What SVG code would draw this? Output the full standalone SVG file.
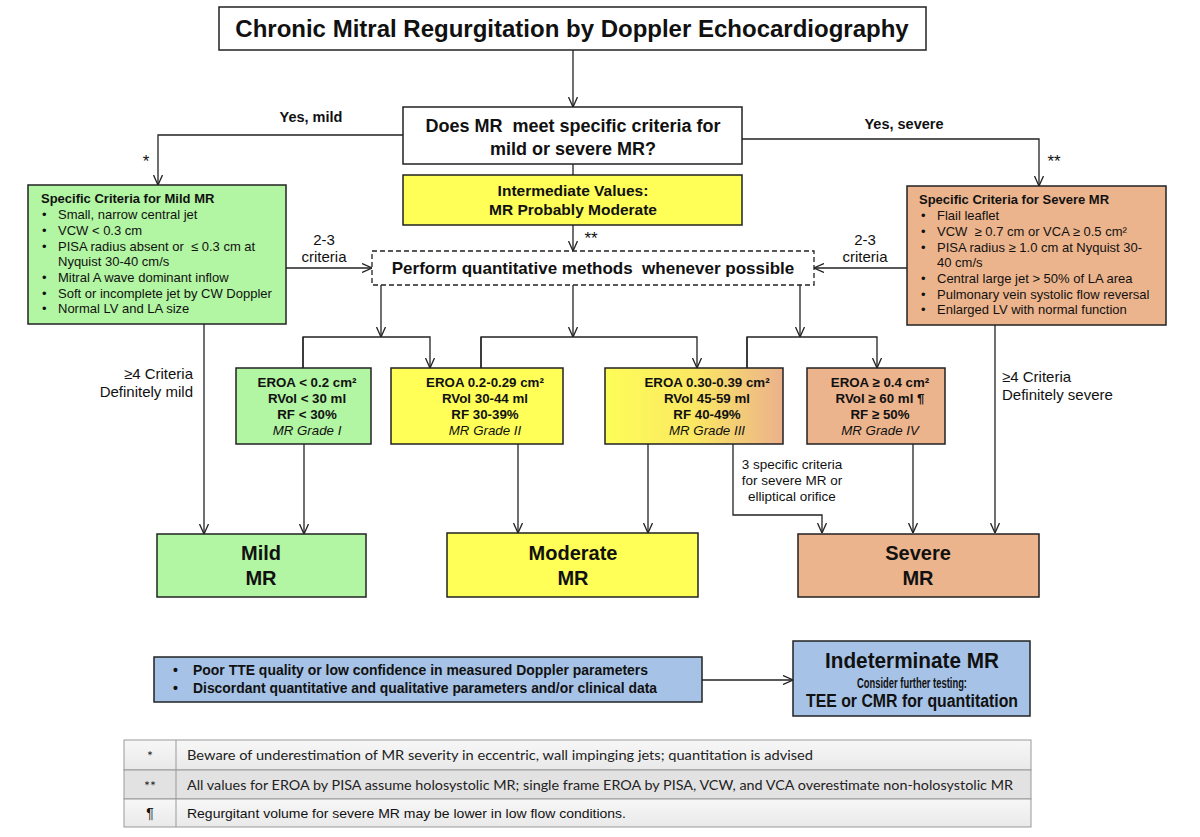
<svg xmlns="http://www.w3.org/2000/svg" width="1200" height="837" viewBox="0 0 1200 837">
<defs>
<marker id="ah" viewBox="0 0 10 10" refX="10" refY="5" markerWidth="10" markerHeight="10" markerUnits="userSpaceOnUse" orient="auto">
<path d="M0,0.5 L10,5 L0,9.5" fill="none" stroke="#222" stroke-width="1.3"/>
</marker>
<linearGradient id="g3" x1="0" y1="0" x2="1" y2="0">
<stop offset="0" stop-color="#fdfd58"/>
<stop offset="0.5" stop-color="#fbe862"/>
<stop offset="1" stop-color="#ebb18c"/>
</linearGradient>
<linearGradient id="tr" x1="0" y1="0" x2="0" y2="1">
<stop offset="0" stop-color="#f7f7f7"/>
<stop offset="1" stop-color="#e9e9e9"/>
</linearGradient>
</defs>
<style>
text{font-family:"Liberation Sans",Arial,sans-serif;fill:#111}
.b{font-weight:bold}
.pre{white-space:pre}
.box{stroke:#222;stroke-width:1.5}
.green{fill:#b2f5a2}
.yellow{fill:#ffff58}
.orange{fill:#ecb48c}
.blue{fill:#a6c2e6}
.white{fill:#fff}
.conn{stroke:#222;stroke-width:1.3;fill:none}
.arr{marker-end:url(#ah)}
.crit{font-size:13px}
.gr{font-size:13.3px;font-weight:bold;text-anchor:middle}
.gi{font-size:13.3px;font-style:italic;text-anchor:middle}
.out{font-size:20px;font-weight:bold;text-anchor:middle}
.lbl{font-size:15px}
.tbl{font-family:Lato,"Liberation Sans",sans-serif;font-size:14px;fill:#222}
</style>
<rect width="1200" height="837" fill="#fff"/>

<g id="connectors">
<path class="conn arr" d="M573,50 V107"/>
<path class="conn" d="M573,164 V175"/>
<path class="conn arr" d="M573,225 V251"/>
<path class="conn arr" d="M403,135 H158 V185"/>
<path class="conn arr" d="M742,139 H1039 V186"/>
<path class="conn arr" d="M286,268 H372"/>
<path class="conn arr" d="M907,268 H814"/>
<path class="conn arr" d="M381,285 V337"/>
<path class="conn arr" d="M573,285 V337"/>
<path class="conn arr" d="M800,285 V337"/>
<path class="conn arr" d="M303,368 V337 H430 V368"/>
<path class="conn arr" d="M481,368 V337 H697 V368"/>
<path class="conn arr" d="M747,368 V337 H877 V368"/>
<path class="conn" d="M303,337 V368"/>
<path class="conn" d="M481,337 V368"/>
<path class="conn" d="M747,337 V368"/>
<path class="conn arr" d="M204,324 V534"/>
<path class="conn arr" d="M304,444 V534"/>
<path class="conn arr" d="M518,444 V533"/>
<path class="conn arr" d="M648,444 V533"/>
<path class="conn arr" d="M733,444 V515 H822 V533"/>
<path class="conn arr" d="M913,444 V533"/>
<path class="conn arr" d="M995,325 V533"/>
<path class="conn arr" d="M702,680 H793"/>
<text class="b" x="311" y="122" font-size="14.5" text-anchor="middle">Yes, mild</text>
<text class="b" x="904" y="129" font-size="14.5" text-anchor="middle">Yes, severe</text>
<text x="146" y="167" font-size="17" text-anchor="middle">*</text>
<text x="1054" y="167" font-size="17" text-anchor="middle">**</text>
<text x="591" y="244" font-size="17" text-anchor="middle">**</text>
<text class="lbl" x="324" y="245" text-anchor="middle">2-3</text>
<text class="lbl" x="324" y="262" text-anchor="middle">criteria</text>
<text class="lbl" x="865" y="245" text-anchor="middle">2-3</text>
<text class="lbl" x="865" y="262" text-anchor="middle">criteria</text>
<text class="lbl" x="193" y="379" text-anchor="end">≥4 Criteria</text>
<text class="lbl" x="193" y="397" text-anchor="end">Definitely mild</text>
<text class="lbl" x="1002" y="382" text-anchor="start">≥4 Criteria</text>
<text class="lbl" x="1002" y="400" text-anchor="start">Definitely severe</text>
<text x="792" y="469" font-size="13.5" text-anchor="middle">3 specific criteria</text>
<text x="792" y="485" font-size="13.5" text-anchor="middle">for severe MR or</text>
<text x="792" y="501" font-size="13.5" text-anchor="middle">elliptical orifice</text>
</g>

<g id="title">
<rect class="box white" x="219" y="7" width="707" height="43"/>
<text class="b" x="572" y="37" font-size="24" text-anchor="middle">Chronic Mitral Regurgitation by Doppler Echocardiography</text>
</g>

<g id="question">
<rect class="box white" x="403" y="107" width="339" height="57"/>
<text class="b pre" x="573" y="132" font-size="18" text-anchor="middle">Does MR  meet specific criteria for</text>
<text class="b" x="573" y="155" font-size="18" text-anchor="middle">mild or severe MR?</text>
</g>

<g id="intermediate">
<rect class="box yellow" x="403" y="175" width="339" height="50"/>
<text class="b" x="573" y="196" font-size="15.5" text-anchor="middle">Intermediate Values:</text>
<text class="b" x="573" y="215" font-size="15.5" text-anchor="middle">MR Probably Moderate</text>
</g>

<g id="quantitative">
<rect class="white" x="372" y="251" width="442" height="34" stroke="#222" stroke-width="1.3" stroke-dasharray="5,3"/>
<text class="b pre" x="593" y="274" font-size="17" text-anchor="middle">Perform quantitative methods  whenever possible</text>
</g>

<g id="mild-criteria">
<rect class="box green" x="28" y="185" width="258" height="139"/>
<text class="b" x="41" y="203" font-size="13">Specific Criteria for Mild MR</text>
<text class="crit" x="42" y="219">•</text><text class="crit" x="58" y="219">Small, narrow central jet</text>
<text class="crit" x="42" y="235">•</text><text class="crit" x="58" y="235">VCW &lt; 0.3 cm</text>
<text class="crit" x="42" y="251">•</text><text class="crit pre" x="58" y="251">PISA radius absent or  ≤ 0.3 cm at</text>
<text class="crit" x="58" y="266">Nyquist 30-40 cm/s</text>
<text class="crit" x="42" y="282">•</text><text class="crit" x="58" y="282">Mitral A wave dominant inflow</text>
<text class="crit" x="42" y="298">•</text><text class="crit" x="58" y="298">Soft or incomplete jet by CW Doppler</text>
<text class="crit" x="42" y="313">•</text><text class="crit" x="58" y="313">Normal LV and LA size</text>
</g>

<g id="severe-criteria">
<rect class="box orange" x="907" y="186" width="259" height="139"/>
<text class="b" x="919" y="204" font-size="13">Specific Criteria for Severe MR</text>
<text class="crit" x="921" y="220">•</text><text class="crit" x="937" y="220">Flail leaflet</text>
<text class="crit" x="921" y="236">•</text><text class="crit pre" x="937" y="236">VCW  ≥ 0.7 cm or VCA ≥ 0.5 cm²</text>
<text class="crit" x="921" y="252">•</text><text class="crit" x="937" y="252">PISA radius ≥ 1.0 cm at Nyquist 30-</text>
<text class="crit" x="937" y="267">40 cm/s</text>
<text class="crit" x="921" y="283">•</text><text class="crit" x="937" y="283">Central large jet &gt; 50% of LA area</text>
<text class="crit" x="921" y="299">•</text><text class="crit" x="937" y="299">Pulmonary vein systolic flow reversal</text>
<text class="crit" x="921" y="314">•</text><text class="crit" x="937" y="314">Enlarged LV with normal function</text>
</g>

<g id="grade1">
<rect class="box green" x="236" y="368" width="135" height="76"/>
<text class="gr" x="307" y="387">EROA &lt; 0.2 cm²</text>
<text class="gr" x="307" y="403">RVol &lt; 30 ml</text>
<text class="gr" x="307" y="419">RF &lt; 30%</text>
<text class="gi" x="307" y="435">MR Grade I</text>
</g>

<g id="grade2">
<rect class="box yellow" x="391" y="368" width="172" height="76"/>
<text class="gr" x="485" y="387">EROA 0.2-0.29 cm²</text>
<text class="gr" x="485" y="403">RVol 30-44 ml</text>
<text class="gr" x="485" y="419">RF 30-39%</text>
<text class="gi" x="485" y="435">MR Grade II</text>
</g>

<g id="grade3">
<rect class="box" fill="url(#g3)" x="605" y="368" width="178" height="76"/>
<text class="gr" x="707" y="387">EROA 0.30-0.39 cm²</text>
<text class="gr" x="707" y="403">RVol 45-59 ml</text>
<text class="gr" x="707" y="419">RF 40-49%</text>
<text class="gi" x="707" y="435">MR Grade III</text>
</g>

<g id="grade4">
<rect class="box orange" x="807" y="368" width="138" height="76"/>
<text class="gr" x="880" y="387">EROA ≥ 0.4 cm²</text>
<text class="gr" x="880" y="403">RVol ≥ 60 ml ¶</text>
<text class="gr" x="880" y="419">RF ≥ 50%</text>
<text class="gi" x="880" y="435">MR Grade IV</text>
</g>

<g id="mild-mr">
<rect class="box green" x="157" y="534" width="209" height="63"/>
<text class="out" x="261" y="560">Mild</text>
<text class="out" x="261" y="585">MR</text>
</g>

<g id="moderate-mr">
<rect class="box yellow" x="447" y="533" width="251" height="64"/>
<text class="out" x="573" y="560">Moderate</text>
<text class="out" x="573" y="585">MR</text>
</g>

<g id="severe-mr">
<rect class="box orange" x="798" y="534" width="241" height="63"/>
<text class="out" x="918" y="560">Severe</text>
<text class="out" x="918" y="585">MR</text>
</g>

<g id="poor-quality">
<rect class="box blue" x="154" y="657" width="548" height="45"/>
<text class="b" x="173" y="675" font-size="14">•</text>
<text class="b" x="193" y="675" font-size="14.5" textLength="455" lengthAdjust="spacingAndGlyphs">Poor TTE quality or low confidence in measured Doppler parameters</text>
<text class="b" x="173" y="693" font-size="14">•</text>
<text class="b" x="193" y="693" font-size="14.5" textLength="464" lengthAdjust="spacingAndGlyphs">Discordant quantitative and qualitative parameters and/or clinical data</text>
</g>

<g id="indeterminate">
<rect class="box blue" x="793" y="641" width="237" height="75"/>
<text class="b" x="912" y="668" font-size="22" text-anchor="middle" textLength="174" lengthAdjust="spacingAndGlyphs">Indeterminate MR</text>
<text class="b" x="912" y="688" font-size="14" text-anchor="middle" textLength="110" lengthAdjust="spacingAndGlyphs">Consider further testing:</text>
<text class="b" x="912" y="707" font-size="18" text-anchor="middle" textLength="212" lengthAdjust="spacingAndGlyphs">TEE or CMR for quantitation</text>
</g>

<g id="footnotes">
<rect x="124" y="740" width="907" height="30" fill="url(#tr)" stroke="#999" stroke-width="1"/>
<rect x="124" y="770" width="907" height="29" fill="#e2e2e2" stroke="#999" stroke-width="1"/>
<rect x="124" y="799" width="907" height="28" fill="url(#tr)" stroke="#999" stroke-width="1"/>
<line x1="176" y1="740" x2="176" y2="827" stroke="#999" stroke-width="1"/>
<text class="tbl" x="150" y="761" text-anchor="middle" font-size="16">*</text>
<text class="tbl" x="150" y="791" text-anchor="middle" font-size="16">**</text>
<text x="150" y="818" font-size="14" text-anchor="middle" fill="#222">¶</text>
<text class="tbl" x="187" y="760" textLength="626" lengthAdjust="spacingAndGlyphs">Beware of underestimation of MR severity in eccentric, wall impinging jets; quantitation is advised</text>
<text class="tbl" x="187" y="790" textLength="826" lengthAdjust="spacingAndGlyphs">All values for EROA by PISA assume holosystolic MR; single frame EROA by PISA, VCW, and VCA overestimate non-holosystolic MR</text>
<text x="187" y="818" font-size="13.5" fill="#222" textLength="439" lengthAdjust="spacingAndGlyphs">Regurgitant volume for severe MR may be lower in low flow conditions.</text>
</g>
</svg>
